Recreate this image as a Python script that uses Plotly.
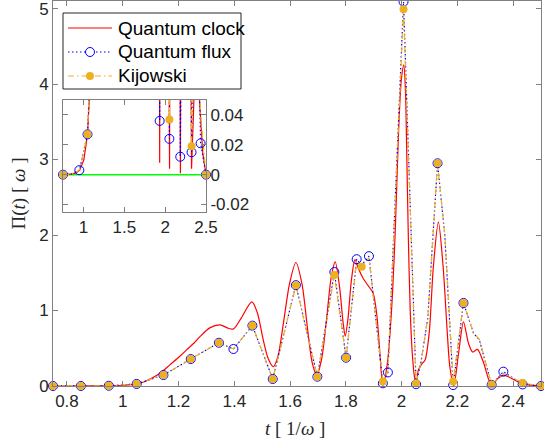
import plotly.graph_objects as go

# ---------------- data ----------------
# Quantum clock (smooth curve)
clock_t = [0.75, 0.805, 0.855, 0.905, 0.955, 1.005, 1.05, 1.08, 1.11, 1.141, 1.169, 1.201,
           1.228, 1.256, 1.276, 1.312, 1.349, 1.375, 1.397, 1.425, 1.463, 1.482, 1.504,
           1.522, 1.54, 1.557, 1.577, 1.598, 1.621, 1.643, 1.663, 1.68, 1.696, 1.713,
           1.73, 1.748, 1.762, 1.778, 1.79, 1.798, 1.808, 1.82, 1.833, 1.846, 1.863,
           1.88, 1.898, 1.911, 1.922, 1.933, 1.949, 1.964, 1.977, 1.989, 1.999, 2.008,
           2.014, 2.018, 2.024, 2.031, 2.039, 2.047, 2.054, 2.06, 2.074, 2.084, 2.099,
           2.114, 2.132, 2.149, 2.164, 2.173, 2.187, 2.205, 2.222, 2.24, 2.255, 2.272,
           2.293, 2.323, 2.345, 2.365, 2.39, 2.42, 2.46, 2.5]
clock_y = [0.0, 0.0, 0.0005, 0.001, 0.003, 0.01, 0.027, 0.06, 0.115, 0.19, 0.28, 0.38,
           0.476, 0.57, 0.65, 0.77, 0.81, 0.77, 0.755, 0.9, 1.115, 0.98, 0.61,
           0.36, 0.255, 0.4, 0.85, 1.35, 1.636, 1.35, 0.75, 0.3, 0.145, 0.35,
           0.85, 1.45, 1.645, 1.3, 0.85, 0.66, 0.9, 1.4, 1.675, 1.55, 1.42,
           1.33, 1.23, 0.95, 0.45, 0.008, 0.3, 1.0, 2.02, 3.34, 4.05, 4.255,
           3.9, 3.2, 2.02, 1.0, 0.4, 0.1, 0.004, 0.21, 0.3, 0.34, 0.7,
           1.58, 2.17, 1.58, 0.7, 0.26, 0.001, 0.45, 0.85, 0.565, 0.45, 0.485,
           0.32, 0.004, 0.1, 0.145, 0.11, 0.05, 0.015, 0.0]

# Quantum flux
flux_t = [0.75, 0.85, 0.95, 1.05, 1.146, 1.244, 1.345, 1.397, 1.465, 1.538, 1.621, 1.698,
          1.759, 1.801, 1.839, 1.857, 1.883, 1.933, 1.951, 2.007, 2.052, 2.069, 2.094,
          2.129, 2.155, 2.185, 2.222, 2.258, 2.279, 2.323, 2.365, 2.434, 2.5]
flux_y = [0.0, 0.0003, 0.003, 0.027, 0.145, 0.357, 0.573, 0.49, 0.80, 0.093, 1.336, 0.123,
          1.51, 0.375, 1.68, 1.60, 1.72, 0.036, 0.18, 5.09, 0.024, 0.30, 0.90,
          2.95, 2.0, 0.012, 1.10, 0.70, 0.61, 0.015, 0.19, 0.021, 0.0]

# Kijowski
kij_t = flux_t
kij_y = [0.0, 0.0003, 0.003, 0.027, 0.145, 0.357, 0.573, 0.49, 0.80, 0.093, 1.336, 0.123,
         1.47, 0.375, 1.66, 1.58, 1.70, 0.06, 0.20, 4.99, 0.037, 0.30, 0.90,
         2.95, 2.0, 0.06, 1.10, 0.70, 0.62, 0.019, 0.17, 0.04, 0.0]

# marker positions (times where symbols are drawn)
flux_mk_t = [0.75, 0.85, 0.95, 1.05, 1.146, 1.244, 1.345, 1.397, 1.465, 1.538, 1.621, 1.698,
             1.759, 1.801, 1.839, 1.883, 1.933, 1.951, 2.007, 2.052, 2.129, 2.185, 2.222,
             2.323, 2.365, 2.434, 2.5]
kij_mk_t = [0.75, 0.85, 0.95, 1.05, 1.146, 1.244, 1.345, 1.465, 1.538, 1.621, 1.698,
            1.759, 1.801, 1.857, 1.933, 2.007, 2.052, 2.129, 2.185, 2.222, 2.323, 2.434, 2.5]
inset_flux_mk_t = [0.75, 0.95, 1.05, 1.933, 2.052, 2.185, 2.323, 2.434, 2.5]
inset_kij_mk_t = [0.75, 1.05, 2.052, 2.323, 2.5]

# zero reference line in the inset
ref_t = [0.75, 2.5]
ref_y = [0.0, 0.0]

series_names = ["Quantum clock", "Quantum flux", "Kijowski"]

x_ticks = [0.8, 1.0, 1.2, 1.4, 1.6, 1.8, 2.0, 2.2, 2.4]
x_ticktext = ["0.8", "1", "1.2", "1.4", "1.6", "1.8", "2", "2.2", "2.4"]
y_ticks = [0, 1, 2, 3, 4, 5]
y_ticktext = ["0", "1", "2", "3", "4", "5"]
ix_ticks = [1.0, 1.5, 2.0, 2.5]
ix_ticktext = ["1", "1.5", "2", "2.5"]
iy_ticks = [-0.02, 0.0, 0.02, 0.04]
iy_ticktext = ["-0.02", "0", "0.02", "0.04"]

# ---------------- styles ----------------
RED = "#FF0000"
BLUE = "#0000FF"
ORANGE = "#EDB120"
GREEN = "#00FF00"
AXC = "#808080"
TXC = "#262626"
SANS = "Liberation Sans, Arial, sans-serif"
SERIF = "Liberation Serif, Times New Roman, serif"
DOT = "1.5px,2.5px"
DASHDOT = "6px,3px,1.5px,3px"

W, H = 544, 444
ML, MR, MT, MB = 53, 3, 1, 58
PW, PH = W - ML - MR, H - MT - MB


def px(xp):
    return (xp - ML) / PW


def py(yp):
    return 1 - (yp - MT) / PH


flux_lookup = dict(zip(flux_t, flux_y))
kij_lookup = dict(zip(kij_t, kij_y))

fig = go.Figure()


def add_set(xa, ya, shape, fmk, kmk):
    fig.add_trace(go.Scatter(x=clock_t, y=clock_y, mode="lines", showlegend=False,
                             line=dict(color=RED, width=1.2, shape=shape, smoothing=0.8),
                             xaxis=xa, yaxis=ya))
    fig.add_trace(go.Scatter(x=flux_t, y=flux_y, mode="lines", showlegend=False,
                             line=dict(color=BLUE, width=1.2, dash=DOT),
                             xaxis=xa, yaxis=ya))
    fig.add_trace(go.Scatter(x=kij_t, y=kij_y, mode="lines", showlegend=False,
                             line=dict(color=ORANGE, width=1.2, dash=DASHDOT),
                             xaxis=xa, yaxis=ya))
    fig.add_trace(go.Scatter(x=fmk, y=[flux_lookup[t] for t in fmk], mode="markers",
                             showlegend=False, cliponaxis=False,
                             marker=dict(symbol="circle-open", size=9, color=BLUE,
                                         line=dict(width=1)),
                             xaxis=xa, yaxis=ya))
    fig.add_trace(go.Scatter(x=kmk, y=[kij_lookup[t] for t in kmk], mode="markers",
                             showlegend=False, cliponaxis=False,
                             marker=dict(symbol="circle", size=8, color=ORANGE),
                             xaxis=xa, yaxis=ya))


add_set("x", "y", "spline", flux_mk_t, kij_mk_t)

# inset
fig.add_trace(go.Scatter(x=ref_t, y=ref_y, mode="lines", showlegend=False,
                         line=dict(color=GREEN, width=1.5), xaxis="x2", yaxis="y2"))
add_set("x2", "y2", "linear", inset_flux_mk_t, inset_kij_mk_t)

axis_common = dict(showline=True, linecolor=AXC, linewidth=1, mirror="ticks",
                   ticks="inside", ticklen=5, tickcolor=AXC, tickwidth=1,
                   showgrid=False, zeroline=False, automargin=False,
                   ticklabeloverflow="allow",
                   tickfont=dict(family=SANS, size=17, color=TXC))

# ---- legend box drawn by hand (MATLAB-like compact legend) ----
shapes = [dict(type="rect", xref="paper", yref="paper", x0=px(63), x1=px(241),
               y0=py(89), y1=py(13), line=dict(color=TXC, width=1), fillcolor="white",
               layer="above")]
legend_styles = [(RED, "solid", None), (BLUE, DOT, "open"), (ORANGE, DASHDOT, "filled")]
annotations = []
for i, (name, (col, dash, mk)) in enumerate(zip(series_names, legend_styles)):
    yc = 28 + 24 * i
    shapes.append(dict(type="line", xref="paper", yref="paper", x0=px(68), x1=px(112),
                       y0=py(yc), y1=py(yc), line=dict(color=col, width=1.2, dash=dash),
                       layer="above"))
    if mk == "open":
        shapes.append(dict(type="circle", xref="paper", yref="paper",
                           x0=px(90 - 4.5), x1=px(90 + 4.5), y0=py(yc + 4.5), y1=py(yc - 4.5),
                           line=dict(color=BLUE, width=1), fillcolor="white", layer="above"))
    elif mk == "filled":
        shapes.append(dict(type="circle", xref="paper", yref="paper",
                           x0=px(90 - 4), x1=px(90 + 4), y0=py(yc + 4), y1=py(yc - 4),
                           line=dict(color=ORANGE, width=0), fillcolor=ORANGE, layer="above"))
    annotations.append(dict(text=name, xref="paper", yref="paper", x=px(116), y=py(yc),
                            xanchor="left", yanchor="middle", showarrow=False,
                            font=dict(family=SANS, size=19, color="black")))

annotations += [
    dict(text="<i>t</i> [ 1/<i>ω</i> ]", xref="paper", yref="paper",
         x=px(295), y=py(428), xanchor="center", yanchor="middle", showarrow=False,
         font=dict(family=SERIF, size=19, color=TXC)),
    dict(text="Π(<i>t</i>) [ <i>ω</i> ]", xref="paper", yref="paper",
         x=px(18), y=0.5, xanchor="center", yanchor="middle", showarrow=False,
         textangle=-90, font=dict(family=SERIF, size=19, color=TXC)),
]

fig.update_layout(
    width=W, height=H,
    margin=dict(l=ML, r=MR, t=MT, b=MB, autoexpand=False),
    paper_bgcolor="white", plot_bgcolor="white",
    xaxis=dict(range=[0.75, 2.5], tickvals=x_ticks, ticktext=x_ticktext, **axis_common),
    yaxis=dict(range=[0, 5.1], tickvals=y_ticks, ticktext=y_ticktext, **axis_common),
    xaxis2=dict(domain=[px(63), px(206)], anchor="y2", range=[0.75, 2.5],
                tickvals=ix_ticks, ticktext=ix_ticktext, **axis_common),
    yaxis2=dict(domain=[py(212), py(100)], anchor="x2", side="right", range=[-0.025, 0.05],
                tickvals=iy_ticks, ticktext=iy_ticktext, **axis_common),
    showlegend=False,
    shapes=shapes,
    annotations=annotations,
)

fig.write_html("out.html", config={"displayModeBar": False},
               post_script="document.body.style.margin='0';")
